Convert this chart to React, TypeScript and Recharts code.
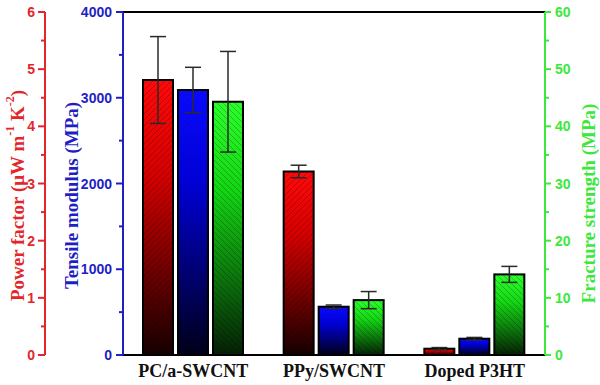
import React from 'react';
import { BarChart, Bar, XAxis, YAxis, ErrorBar, ReferenceLine } from 'recharts';

const categories = ['PC/a-SWCNT', 'PPy/SWCNT', 'Doped P3HT'];
const powerFactor = [4.81, 3.21, 0.11];
const powerFactorErr = [0.76, 0.11, 0.02];
const tensileModulus = [3090, 563, 190];
const tensileModulusErr = [265, 20, 15];
const fractureStrength = [44.3, 9.6, 14.1];
const fractureStrengthErr = [8.8, 1.5, 1.4];

const pfTicks = [0, 0.5, 1, 1.5, 2, 2.5, 3, 3.5, 4, 4.5, 5, 5.5, 6];
const tmTicks = [0, 500, 1000, 1500, 2000, 2500, 3000, 3500, 4000];
const fsTicks = [0, 5, 10, 15, 20, 25, 30, 35, 40, 45, 50, 55, 60];

const data = categories.map((c, i) => ({
  category: c,
  pf: powerFactor[i],
  pfErr: powerFactorErr[i],
  tm: tensileModulus[i],
  tmErr: tensileModulusErr[i],
  fs: fractureStrength[i],
  fsErr: fractureStrengthErr[i],
}));

const RED = '#e3262b';
const BLUE = '#1f1fc4';
const GREEN = '#3be83b';
const SANS = "'Liberation Sans', Arial, sans-serif";
const SERIF = "'Liberation Serif', 'Times New Roman', serif";

// axis ids (blue must be innermost on the left, red outermost)
const ID_TM = 'axis1';
const ID_PF = 'axis2';
const ID_FS = 'axis3';

const makeYTick = (
  color: string,
  side: 'left' | 'right',
  tickSize: number,
  tickMargin: number,
  minorSize: number,
  majorStep: number,
) => (props: any) => {
  const { x, y, payload } = props;
  const v = payload.value;
  const r = v / majorStep;
  const major = Math.abs(r - Math.round(r)) < 1e-6;
  const len = major ? tickSize : minorSize;
  if (side === 'left') {
    const ax = x + tickMargin + tickSize;
    return (
      <g>
        <line x1={ax} x2={ax - len} y1={y} y2={y} stroke={color} strokeWidth={2} />
        {major && (
          <text x={x} y={y} dy="0.36em" textAnchor="end" fill={color} fontSize={14} fontWeight="bold" fontFamily={SANS}>
            {v}
          </text>
        )}
      </g>
    );
  }
  const ax = x - tickMargin - tickSize;
  return (
    <g>
      <line x1={ax} x2={ax + len} y1={y} y2={y} stroke={color} strokeWidth={2} />
      {major && (
        <text x={x} y={y} dy="0.36em" textAnchor="start" fill={color} fontSize={14} fontWeight="bold" fontFamily={SANS}>
          {v}
        </text>
      )}
    </g>
  );
};

const XTick = (props: any) => {
  const { x, y, payload } = props;
  return (
    <text x={x} y={y + 22} textAnchor="middle" fill="#111" fontSize={18} fontWeight="bold" fontFamily={SERIF}>
      {payload.value}
    </text>
  );
};

const makeShape = (id: string) => (props: any) => {
  const { x, y, width, height } = props;
  if (!height || height <= 0) return <g />;
  return (
    <g>
      <rect x={x} y={y} width={width} height={height} fill={`url(#grad-${id})`} />
      <rect x={x} y={y} width={width} height={height} fill={`url(#hatch-${id})`} />
      <rect x={x} y={y} width={width} height={height} fill="none" stroke="#000" strokeWidth={2} />
    </g>
  );
};

const titleLabel = (kind: 'pf' | 'tm' | 'fs') => (props: any) => {
  const vb = props.viewBox || {};
  const defaults: any = {
    pf: { x: 0, y: 12, height: 343 },
    tm: { x: 45, y: 12, height: 343 },
    fs: { x: 545, y: 12, height: 343 },
  };
  const bx = typeof vb.x === 'number' ? vb.x : defaults[kind].x;
  const by = typeof vb.y === 'number' ? vb.y : defaults[kind].y;
  const bh = typeof vb.height === 'number' ? vb.height : defaults[kind].height;
  const off = kind === 'pf' ? 17 : kind === 'tm' ? 26 : 43;
  const dyc = kind === 'fs' ? 20 : 12;
  const cx = bx + off;
  const cy = by + bh / 2 + dyc;
  const color = kind === 'pf' ? RED : kind === 'tm' ? BLUE : GREEN;
  const common = {
    x: cx,
    y: cy,
    transform: `rotate(-90, ${cx}, ${cy})`,
    textAnchor: 'middle' as const,
    dominantBaseline: 'central' as const,
    fill: color,
    fontSize: 19,
    fontWeight: 'bold',
    fontFamily: SERIF,
  };
  if (kind === 'pf') {
    return (
      <text {...common}>
        Power factor (μW m
        <tspan dy={-7} fontSize={12}>-1</tspan>
        <tspan dy={7}> K</tspan>
        <tspan dy={-7} fontSize={12}>-2</tspan>
        <tspan dy={7}>)</tspan>
      </text>
    );
  }
  if (kind === 'tm') return <text {...common}>Tensile modulus (MPa)</text>;
  return <text {...common}>Fracture strength (MPa)</text>;
};

const Defs = () => (
  <svg width={0} height={0} style={{ position: 'absolute' }}>
    <defs>
      <linearGradient id="grad-red" x1="0" y1="0" x2="0" y2="1">
        <stop offset="0%" stopColor="#ff0a0a" />
        <stop offset="35%" stopColor="#d40000" />
        <stop offset="100%" stopColor="#150000" />
      </linearGradient>
      <linearGradient id="grad-blue" x1="0" y1="0" x2="0" y2="1">
        <stop offset="0%" stopColor="#0a0aff" />
        <stop offset="35%" stopColor="#0000d8" />
        <stop offset="100%" stopColor="#000018" />
      </linearGradient>
      <linearGradient id="grad-green" x1="0" y1="0" x2="0" y2="1">
        <stop offset="0%" stopColor="#2cff2c" />
        <stop offset="35%" stopColor="#14d414" />
        <stop offset="100%" stopColor="#051f05" />
      </linearGradient>
      <pattern id="hatch-red" patternUnits="userSpaceOnUse" width={6} height={6}>
        <path d="M0,6 L6,0 M-1,1 L1,-1 M5,7 L7,5" stroke="#000" strokeOpacity={0.22} strokeWidth={1} />
      </pattern>
      <pattern id="hatch-blue" patternUnits="userSpaceOnUse" width={6} height={6}>
        <path d="M0,6 L6,0 M-1,1 L1,-1 M5,7 L7,5" stroke="#000" strokeOpacity={0.08} strokeWidth={1} />
      </pattern>
      <pattern id="hatch-green" patternUnits="userSpaceOnUse" width={6} height={6}>
        <path d="M0,0 L6,6 M-1,5 L1,7 M5,-1 L7,1" stroke="#000" strokeOpacity={0.22} strokeWidth={1} />
      </pattern>
    </defs>
  </svg>
);

export default function App() {
  return (
    <div style={{ position: 'absolute', left: 0, top: 0, width: 600, height: 385, background: '#fff' }}>
      <Defs />
      <BarChart
        width={600}
        height={385}
        data={data}
        margin={{ top: 12, right: 0, bottom: 0, left: 0 }}
        barSize={30}
        barGap={5}
      >
        <XAxis
          dataKey="category"
          axisLine={{ stroke: '#000', strokeWidth: 2 }}
          tickLine={false}
          tickSize={0}
          tickMargin={0}
          height={30}
          tick={<XTick />}
          interval={0}
        />
        <YAxis
          yAxisId={ID_TM}
          orientation="left"
          width={78}
          domain={[0, 4000]}
          ticks={tmTicks}
          interval={0}
          axisLine={{ stroke: BLUE, strokeWidth: 2 }}
          tickLine={false}
          tickSize={7}
          tickMargin={4}
          tick={makeYTick(BLUE, 'left', 7, 4, 4, 1000)}
          label={{ content: titleLabel('tm') }}
        />
        <YAxis
          yAxisId={ID_PF}
          orientation="left"
          width={45}
          domain={[0, 6]}
          ticks={pfTicks}
          interval={0}
          axisLine={{ stroke: RED, strokeWidth: 2 }}
          tickLine={false}
          tickSize={7}
          tickMargin={3}
          tick={makeYTick(RED, 'left', 7, 3, 4, 1)}
          label={{ content: titleLabel('pf') }}
        />
        <YAxis
          yAxisId={ID_FS}
          orientation="right"
          width={55}
          domain={[0, 60]}
          ticks={fsTicks}
          interval={0}
          axisLine={{ stroke: GREEN, strokeWidth: 2 }}
          tickLine={false}
          tickSize={6}
          tickMargin={4}
          tick={makeYTick(GREEN, 'right', 6, 4, 4, 10)}
          label={{ content: titleLabel('fs') }}
        />
        <ReferenceLine yAxisId={ID_TM} y={4000} stroke="#000" strokeWidth={2} />
        <Bar yAxisId={ID_PF} dataKey="pf" isAnimationActive={false} shape={makeShape('red')}>
          <ErrorBar dataKey="pfErr" width={8} stroke="#2a2a2a" strokeWidth={1.5} direction="y" />
        </Bar>
        <Bar yAxisId={ID_TM} dataKey="tm" isAnimationActive={false} shape={makeShape('blue')}>
          <ErrorBar dataKey="tmErr" width={8} stroke="#2a2a2a" strokeWidth={1.5} direction="y" />
        </Bar>
        <Bar yAxisId={ID_FS} dataKey="fs" isAnimationActive={false} shape={makeShape('green')}>
          <ErrorBar dataKey="fsErr" width={8} stroke="#2a2a2a" strokeWidth={1.5} direction="y" />
        </Bar>
      </BarChart>
    </div>
  );
}
